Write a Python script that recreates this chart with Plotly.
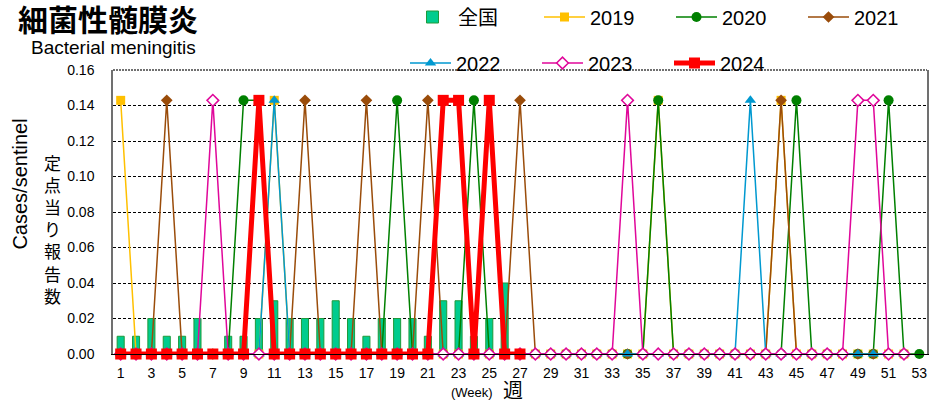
import plotly.graph_objects as go

# ---------------- data ----------------
weeks = list(range(1, 54))
x_tick_weeks = [1, 3, 5, 7, 9, 11, 13, 15, 17, 19, 21, 23, 25, 27, 29, 31, 33, 35,
                37, 39, 41, 43, 45, 47, 49, 51, 53]
x_tick_labels = [str(w) for w in x_tick_weeks]
y_tick_vals = [0.00, 0.02, 0.04, 0.06, 0.08, 0.10, 0.12, 0.14, 0.16]

national = [0.01, 0.01, 0.02, 0.01, 0.01, 0.02, 0.00, 0.01, 0.01, 0.02,
            0.03, 0.02, 0.02, 0.02, 0.03, 0.02, 0.01, 0.02, 0.02, 0.02,
            0.01, 0.03, 0.03, 0.01, 0.02, 0.04]

y2019 = [0.1429, 0, 0, 0, 0, 0, 0, 0, 0, 0,
         0.1429, 0, 0, 0, 0, 0, 0, 0, 0, 0,
         0, 0, 0, 0, 0, 0, 0, 0, 0, 0,
         0, 0, 0, 0, 0, 0.1429, 0, 0, 0, 0,
         0, 0, 0, 0.1429, 0, 0, 0, 0, 0, 0,
         0, 0]
y2020 = [0, 0, 0, 0, 0, 0, 0, 0, 0.1429, 0.1429,
         0, 0, 0, 0, 0, 0, 0, 0, 0.1429, 0,
         0, 0, 0, 0.1429, 0, 0, 0, 0, 0, 0,
         0, 0, 0, 0, 0, 0.1429, 0, 0, 0, 0,
         0, 0, 0, 0, 0.1429, 0, 0, 0, 0, 0,
         0.1429, 0, 0]
y2021 = [0, 0, 0, 0.1429, 0, 0, 0, 0, 0, 0,
         0, 0, 0.1429, 0, 0, 0, 0.1429, 0, 0, 0,
         0.1429, 0, 0, 0, 0, 0, 0.1429, 0, 0, 0,
         0, 0, 0, 0, 0, 0, 0, 0, 0, 0,
         0, 0, 0, 0.1429, 0, 0, 0, 0, 0, 0,
         0, 0]
y2022 = [0, 0, 0, 0, 0, 0, 0, 0, 0, 0,
         0.1429, 0, 0, 0, 0, 0, 0, 0, 0, 0,
         0, 0, 0, 0, 0, 0, 0, 0, 0, 0,
         0, 0, 0, 0, 0, 0, 0, 0, 0, 0,
         0, 0.1429, 0, 0, 0, 0, 0, 0, 0, 0,
         0, 0]
y2023 = [0, 0, 0, 0, 0, 0, 0.1429, 0, 0, 0,
         0, 0, 0, 0, 0, 0, 0, 0, 0, 0,
         0, 0, 0, 0, 0, 0, 0, 0, 0, 0,
         0, 0, 0, 0.1429, 0, 0, 0, 0, 0, 0,
         0, 0, 0, 0, 0, 0, 0, 0, 0.1429, 0.1429,
         0, 0]
y2024 = [0, 0, 0, 0, 0, 0, 0, 0, 0, 0.1429,
         0, 0, 0, 0, 0, 0, 0, 0, 0, 0,
         0, 0.1429, 0.1429, 0, 0.1429, 0, 0]

# ---------------- figure ----------------
FONT = "Liberation Sans, Arial, sans-serif"
CJK = "Noto Sans CJK JP, sans-serif"

fig = go.Figure()

fig.add_trace(go.Bar(
    x=weeks[:len(national)], y=national, name="全国",
    marker=dict(color="#00CC8E", line=dict(color="#1E9A3A", width=1)),
    legend="legend",
))

series = [
    ("2019", y2019, "#FFC000", "square", 9, "legend", 1.5),
    ("2020", y2020, "#008000", "circle", 10, "legend", 1.5),
    ("2021", y2021, "#9A4C0A", "diamond", 9, "legend", 1.5),
    ("2022", y2022, "#0099D0", "triangle-up", 10, "legend2", 1.5),
    ("2023", y2023, "#E0079A", "diamond-open", 9, "legend2", 1.5),
    ("2024", y2024, "#FF0000", "square", 11, "legend2", 5),
]
for name, ys, color, sym, size, leg, lw in series:
    marker = dict(symbol=sym, size=size, color=color)
    if sym == "diamond-open":
        marker = dict(symbol="diamond", size=size, color="white",
                      line=dict(color=color, width=1.5))
    fig.add_trace(go.Scatter(
        x=weeks[:len(ys)], y=ys, name=name, mode="lines+markers",
        line=dict(color=color, width=lw), marker=marker, legend=leg,
        cliponaxis=False,
    ))

fig.update_layout(
    width=929, height=403,
    margin=dict(l=113, r=2, t=70, b=49, autoexpand=False),
    paper_bgcolor="white", plot_bgcolor="white",
    font=dict(family=FONT, color="black", size=14),
    bargap=0.54,
    showlegend=True,
    legend=dict(orientation="h", xref="container", yref="container",
                x=407 / 929, y=1 - 17 / 403, xanchor="left", yanchor="middle",
                font=dict(size=20, family=FONT + ", " + CJK),
                entrywidth=76, entrywidthmode="pixels", itemwidth=41,
                bgcolor="rgba(0,0,0,0)", traceorder="normal"),
    legend2=dict(orientation="h", xref="container", yref="container",
                 x=405 / 929, y=1 - 63 / 403, xanchor="left", yanchor="middle",
                 font=dict(size=20, family=FONT),
                 entrywidth=76, entrywidthmode="pixels", itemwidth=41,
                 bgcolor="rgba(0,0,0,0)", traceorder="normal"),
    xaxis=dict(
        range=[0.5, 53.5], tickmode="array", tickvals=x_tick_weeks,
        ticktext=x_tick_labels, showgrid=False, zeroline=False,
        showline=True, linecolor="black", linewidth=1,
        ticks="", tickfont=dict(size=14), ticklabelstandoff=6,
    ),
    yaxis=dict(
        range=[0, 0.16], tickmode="array", tickvals=y_tick_vals,
        tickformat=".2f", showgrid=True, gridcolor="black", gridwidth=1,
        griddash="3px,2px", zeroline=False,
        showline=True, linecolor="#707070", linewidth=1.5, mirror=True,
        ticks="", tickfont=dict(size=14), ticklabelstandoff=14,
    ),
)

# top border dotted
fig.add_shape(type="line", xref="paper", yref="paper", x0=0, x1=1, y0=1, y1=1,
              line=dict(color="#707070", width=2, dash="2px,1px"))

fig.add_annotation(text="<b>細菌性髄膜炎</b>", xref="paper", yref="paper",
                   x=-113 / 814, xshift=16, y=1, yshift=52, xanchor="left", yanchor="middle",
                   showarrow=False, font=dict(size=30, family=CJK))
fig.add_annotation(text="Bacterial meningitis", xref="paper", yref="paper",
                   x=-113 / 814, xshift=29, y=1, yshift=23, xanchor="left", yanchor="middle",
                   showarrow=False, font=dict(size=19, family=FONT))
fig.add_annotation(text="Cases/sentinel", xref="paper", yref="paper",
                   x=-113 / 814, xshift=20, y=0.6, xanchor="center", yanchor="middle",
                   textangle=-90, showarrow=False, font=dict(size=20, family=FONT))
fig.add_annotation(text="定<br>点<br>当<br>り<br>報<br>告<br>数", xref="paper", yref="paper",
                   x=-113 / 814, xshift=53, y=0.44, xanchor="center", yanchor="middle",
                   showarrow=False, font=dict(size=17, family=CJK))
fig.add_annotation(text="(Week)", xref="paper", yref="paper",
                   x=(472 - 113) / 814, y=0, yshift=-38, xanchor="center", yanchor="middle",
                   showarrow=False, font=dict(size=13, family=FONT))
fig.add_annotation(text="週", xref="paper", yref="paper",
                   x=(513 - 113) / 814, y=0, yshift=-35, xanchor="center", yanchor="middle",
                   showarrow=False, font=dict(size=20, family=CJK))

fig.write_html("out.html", config={"displayModeBar": False},
               post_script="document.body.style.margin='0';")
